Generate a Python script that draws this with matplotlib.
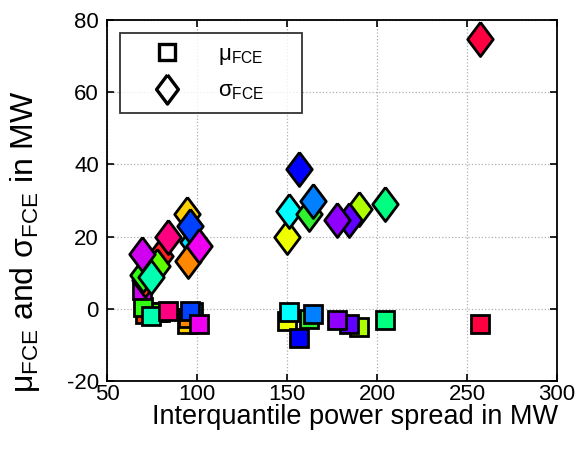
import matplotlib
matplotlib.use("Agg")
import matplotlib.pyplot as plt
from matplotlib.lines import Line2D

plt.rcParams['font.family'] = ['Liberation Sans', 'DejaVu Sans']
plt.rcParams['mathtext.fontset'] = 'custom'
plt.rcParams['mathtext.rm'] = 'Liberation Sans'
plt.rcParams['mathtext.it'] = 'Liberation Sans'
plt.rcParams['mathtext.default'] = 'regular'
plt.rcParams['axes.unicode_minus'] = False

# interquantile spread (MW), mean and std of FCE (MW), point colour
spread = [71.0, 97.5, 79.4, 77.6, 70.2, 74.4, 69.3, 84.1, 94.6, 95.2, 96.0, 101.1,
          150.0, 150.9, 162.0, 164.6, 156.8, 190.2, 184.6, 177.9, 204.6, 257.2]
mu_fce = [-1.5, -0.8, -1.0, -1.0, 0.4, -1.9, 5.2, -0.6, -4.2, -2.5, -0.6, -4.2,
          -3.3, -0.9, -2.9, -1.5, -8.0, -5.0, -4.3, -3.1, -3.1, -4.1]
sigma_fce = [8.0, 18.5, 14.7, 12.0, 9.5, 8.7, 15.2, 19.8, 26.3, 13.3, 22.8, 17.5,
             20.0, 27.2, 26.3, 29.8, 38.8, 27.7, 24.7, 24.7, 29.1, 74.6]
colors = ['#ff4000', '#00e0ff', '#ff2020', '#60ff00', '#30ff10', '#00ffb0',
          '#d000f0', '#ff0080', '#ffd000', '#ff8800', '#0040ff', '#f000f0',
          '#f0ff00', '#00ffff', '#30f030', '#0080ff', '#0000ff', '#b0ff00',
          '#6000ff', '#9000ff', '#00ff80', '#ff0040']

diamond = [(0, 1), (0.75, 0), (0, -1), (-0.75, 0), (0, 1)]

fig = plt.figure(figsize=(5.82, 4.5), dpi=100)
ax = fig.add_axes([0.184, 0.153, 0.773, 0.803])

for x, m, c in zip(spread, mu_fce, colors):
    ax.plot(x, m, marker='s', ms=12.5, mfc=c, mec='k', mew=2, ls='none')
for x, s, c in zip(spread, sigma_fce, colors):
    ax.plot(x, s, marker=diamond, ms=24.5, mfc=c, mec='k', mew=2, ls='none')

ax.set_xlim(50, 300)
ax.set_ylim(-20, 80)
ax.set_xticks([50, 100, 150, 200, 250, 300])
ax.set_yticks([-20, 0, 20, 40, 60, 80])
ax.grid(True, ls=':', color='#b0b0b0', lw=0.9)
ax.tick_params(direction='in', top=True, right=True, labelsize=16, length=5, width=1.2)
ax.tick_params(axis='x', pad=2)
ax.tick_params(axis='y', pad=6)
for sp in ax.spines.values():
    sp.set_linewidth(1.3)

ax.set_xlabel('Interquantile power spread in MW', fontsize=19.5)
ax.xaxis.set_label_coords(0.551, -0.062)
ax.set_ylabel(r'$\mu_{FCE}$ and $\sigma_{FCE}$ in MW', fontsize=23)
ax.yaxis.set_label_coords(-0.144, 0.385)

handles = [Line2D([], [], marker='s', ms=12, mfc='none', mec='k', mew=2.4, ls='none'),
           Line2D([], [], marker=diamond, ms=21, mfc='none', mec='k', mew=2.4, ls='none')]
leg = ax.legend(handles, [r'$\mu_{FCE}$     ', r'$\sigma_{FCE}$     '], loc='upper left',
                fontsize=16, frameon=True, fancybox=False, edgecolor='k',
                borderpad=0.5, labelspacing=0.6, handletextpad=0.7,
                borderaxespad=0.6, handlelength=3.2)
leg.get_frame().set_linewidth(1.3)

plt.savefig('out.png', dpi=100)
